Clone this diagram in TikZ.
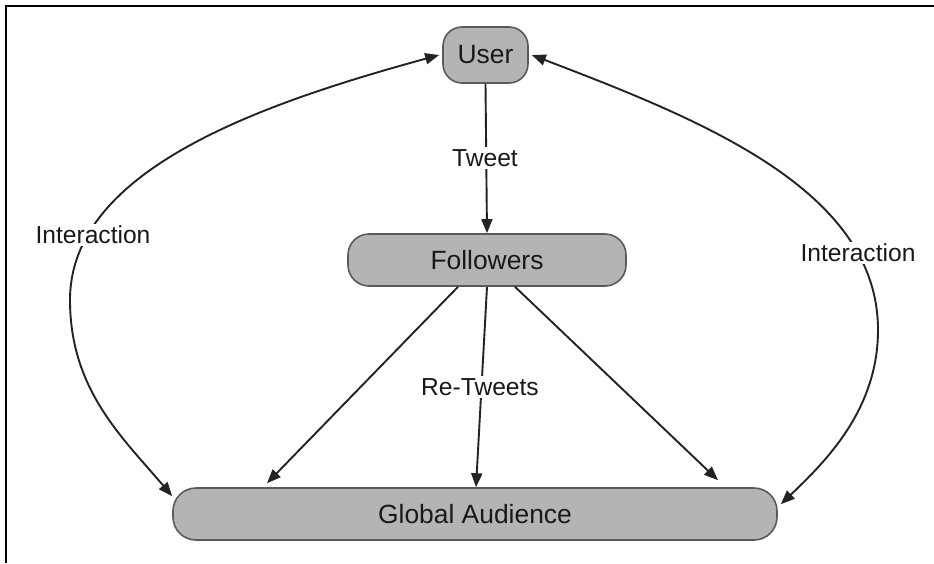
\documentclass[tikz,border=0pt]{standalone}
\usepackage{fontspec}
\setmainfont{Liberation Sans}
\usetikzlibrary{arrows.meta}
\definecolor{nodefill}{RGB}{180,180,180}
\definecolor{nodeline}{RGB}{90,90,90}
\definecolor{edgecol}{RGB}{35,35,35}
\definecolor{txtcol}{RGB}{25,25,25}
\tikzset{
  box/.style={draw=nodeline, line width=1.6pt, fill=nodefill, rounded corners=19pt,
    inner sep=0pt, text=txtcol, font=\fontsize{26.4}{30}\selectfont},
  edge/.style={draw=edgecol, line width=1.9pt,
    -{Triangle[length=14pt,width=11pt]}},
  both/.style={draw=edgecol, line width=1.9pt,
    {Triangle[length=14pt,width=11pt]}-{Triangle[length=14pt,width=11pt]}},
  lbl/.style={fill=white, inner sep=2pt, text=txtcol, font=\fontsize{24.6}{28}\selectfont}
}
\begin{document}
\begin{tikzpicture}[x=1pt,y=-1pt]
\useasboundingbox (0,0) rectangle (934,563);
\fill[white] (0,0) rectangle (934,563);
\draw[line width=2pt, black] (6,563) -- (6,6) -- (934,6);

\node[box, minimum width=85pt, minimum height=56pt] (user) at (485.5,55) {User};
\node[box, minimum width=278pt, minimum height=52pt, rounded corners=21pt] (followers) at (487,260) {Followers};
\node[box, minimum width=604pt, minimum height=52pt, rounded corners=23pt] (global) at (475,514) {Global Audience};

% Tweet
\draw[edge] (user.south) -- (followers.north);
\node[lbl] (tweet) at (485,158) {Tweet};

% Re-tweets
\draw[edge] ([xshift=-29pt]followers.south) -- ([xshift=-208pt,yshift=4pt]global.north);
\draw[edge] (followers.south) -- ([xshift=1pt]global.north);
\draw[edge] ([xshift=28pt]followers.south) -- ([xshift=243pt,yshift=7pt]global.north);
\node[lbl] (retweets) at (480,387) {Re-Tweets};

% Interaction left
\coordinate (lmid) at (70,300);
\draw[both] ([yshift=-9pt]global.north west) .. controls (123,438) and (70,390) .. (lmid)
   .. controls (70,170) and (260,104) .. ([xshift=-3pt]user.west);
\node[lbl] (ileft) at (93,235) {Interaction};

% Interaction right
\coordinate (rmid) at (878,330);
\draw[both] ([xshift=3pt]user.east) .. controls (702,120) and (878,190) .. (rmid)
   .. controls (878,410) and (825,462) .. ([xshift=3pt,yshift=-17pt]global.north east);
\node[lbl] (iright) at (858,253) {Interaction};
\end{tikzpicture}
\end{document}
